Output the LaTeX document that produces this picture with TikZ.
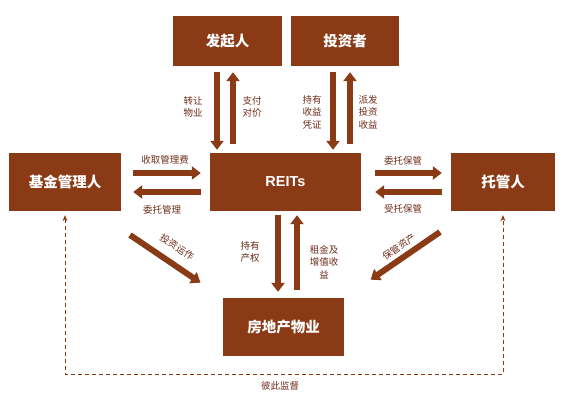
\documentclass[tikz,border=0pt]{standalone}
\usepackage{fontspec}
\setmainfont{Liberation Sans}
\newfontfamily\cjk{Noto Sans CJK SC}
\usetikzlibrary{arrows.meta}
\definecolor{brn}{RGB}{139,58,22}
\definecolor{lbl}{RGB}{110,45,25}
\begin{document}
\begin{tikzpicture}[x=1pt,y=-1pt,
  box/.style={fill=brn,draw=none,text=white,font=\cjk\bfseries\fontsize{14.5}{16}\selectfont,inner sep=0pt},
  big/.style={draw=brn,line width=6pt,-{Triangle[width=13pt,length=9pt]}},
  lab/.style={text=lbl,font=\cjk\fontsize{9.5}{12.5}\selectfont,align=center,inner sep=0pt},
  dsh/.style={draw=brn,line width=0.9pt,dash pattern=on 4pt off 3pt,{Stealth[length=6pt,width=5pt]}-{Stealth[length=6pt,width=5pt]}}]
\useasboundingbox (0,0) rectangle (580,406);
\fill[white] (0,0) rectangle (580,406);
% boxes
\node[box,minimum width=109pt,minimum height=50pt] (fq) at (227.5,41) {发起人};
\node[box,minimum width=108pt,minimum height=50pt] (tz) at (345,41) {投资者};
\node[box,minimum width=151pt,minimum height=58pt,font=\bfseries\fontsize{14.5}{16}\selectfont] (reits) at (285.5,182) {REITs};
\node[box,minimum width=112pt,minimum height=58pt] (jj) at (65,182) {基金管理人};
\node[box,minimum width=104pt,minimum height=58pt] (tg) at (503,182) {托管人};
\node[box,minimum width=121pt,minimum height=58pt] (fd) at (283.5,327) {房地产物业};
% column coordinates
\coordinate (c1) at (217,0);
\coordinate (c2) at (233,0);
\coordinate (c3) at (333,0);
\coordinate (c4) at (350,0);
\coordinate (c5) at (278,0);
\coordinate (c6) at (297,0);
\coordinate (r1) at (0,173);
\coordinate (r2) at (0,192);
% vertical arrows top
\draw[big,shorten <=6pt,shorten >=3pt] (fq.south -| c1) -- (reits.north -| c1);
\draw[big,shorten <=9pt,shorten >=6pt] (reits.north -| c2) -- (fq.south -| c2);
\draw[big,shorten <=6pt,shorten >=3pt] (tz.south -| c3) -- (reits.north -| c3);
\draw[big,shorten <=9pt,shorten >=6pt] (reits.north -| c4) -- (tz.south -| c4);
% vertical arrows bottom
\draw[big,shorten <=4pt,shorten >=6pt] (reits.south -| c5) -- (fd.north -| c5);
\draw[big,shorten <=8pt,shorten >=4pt] (fd.north -| c6) -- (reits.south -| c6);
% horizontal arrows
\draw[big,shorten <=12pt,shorten >=9pt] (jj.east |- r1) -- (reits.west |- r1);
\draw[big,shorten <=9pt,shorten >=12pt] (reits.west |- r2) -- (jj.east |- r2);
\draw[big,shorten <=14pt,shorten >=9pt] (reits.east |- r1) -- (tg.west |- r1);
\draw[big,shorten <=9pt,shorten >=14pt] (tg.west |- r2) -- (reits.east |- r2);
% diagonal arrows
\coordinate (d1) at (130,235);
\coordinate (d2) at (440,232);
\draw[big,shorten >=27pt] (d1) -- (fd.north west);
\draw[big,shorten >=32pt] (d2) -- (fd.north east);
% dashed
\coordinate (bot) at (0,374);
\draw[dsh,shorten <=4pt,shorten >=4pt] (jj.south) -- (jj.south |- bot) -- (tg.south |- bot) -- (tg.south);
% labels
\node[lab] at (193,107) {转让\\物业};
\node[lab] at (252,107) {支付\\对价};
\node[lab] at (312,112) {持有\\收益\\凭证};
\node[lab] at (368,112) {派发\\投资\\收益};
\node[lab] at (165,160) {收取管理费};
\node[lab] at (162,210) {委托管理};
\node[lab] at (403,161) {委托保管};
\node[lab] at (403,209) {受托保管};
\node[lab,rotate=-33] at (177,247) {投资运作};
\node[lab,rotate=35] at (399,247) {保管资产};
\node[lab] at (250,252) {持有\\产权};
\node[lab] at (324,262) {租金及\\增值收\\益};
\node[lab] at (280,386) {彼此监督};
\end{tikzpicture}
\end{document}
